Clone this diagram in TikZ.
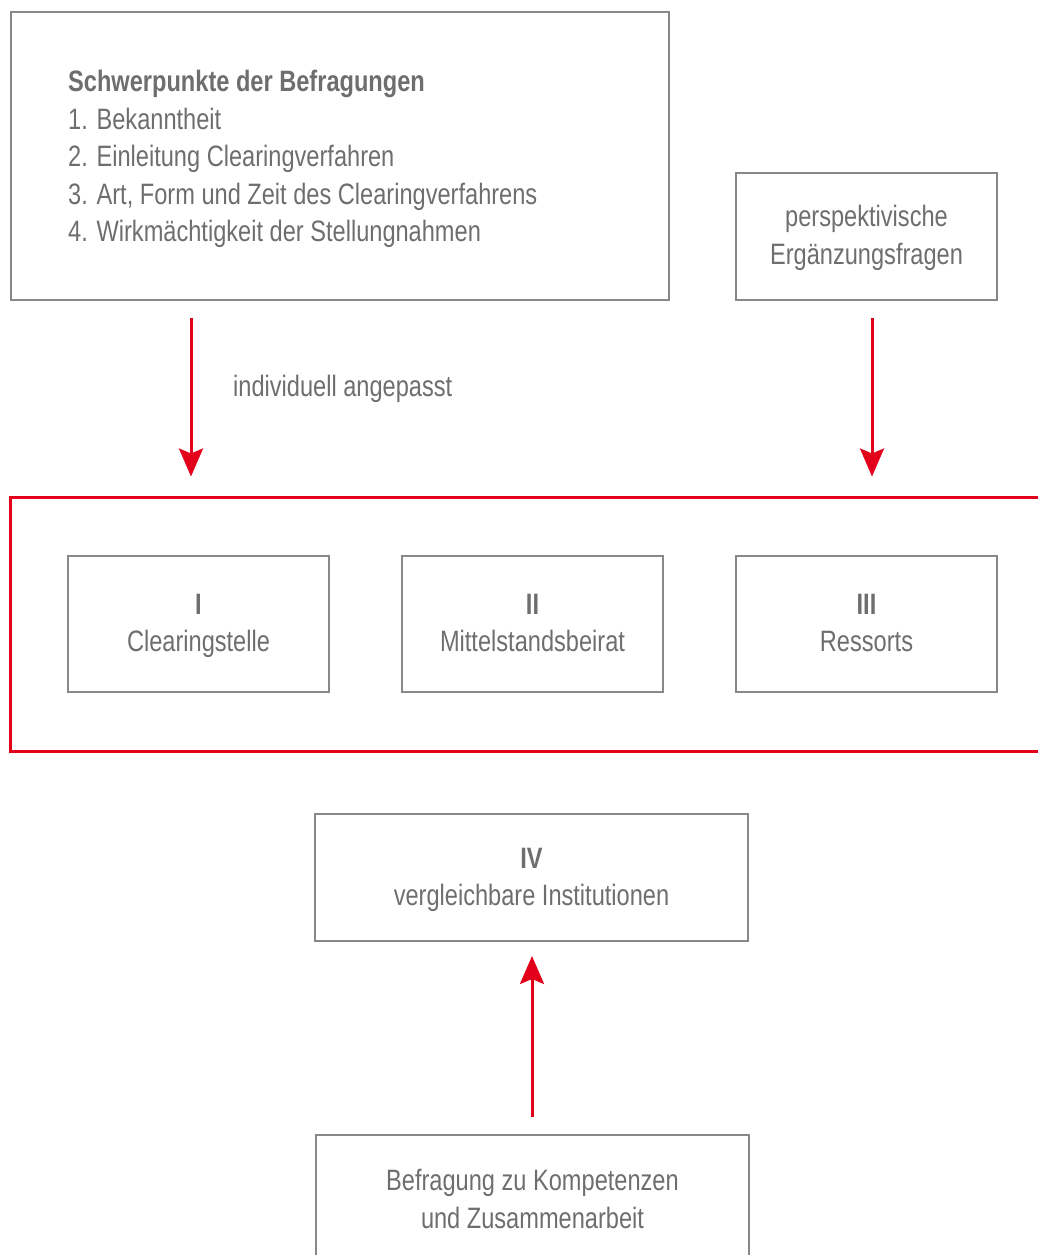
\documentclass[tikz,border=0pt]{standalone}
\usepackage{fontspec}
\setmainfont[FakeStretch=0.8]{Liberation Sans}
\usetikzlibrary{arrows.meta}
\definecolor{txtgray}{HTML}{6E6E6E}
\definecolor{boxgray}{HTML}{888888}
\definecolor{cred}{HTML}{E3001B}
\tikzset{
  graybox/.style={draw=boxgray, line width=2pt, minimum width=#1, inner sep=0pt, text=txtgray, align=center, font=\fontsize{29.5}{37.5}\selectfont},
  redbox/.style={draw=cred, line width=3pt, inner sep=0pt},
  redarrow/.style={draw=cred, line width=3pt, -{Stealth[length=28pt,width=24pt,inset=5pt]}},
  txt/.style={text=txtgray, inner sep=0pt, font=\fontsize{29.5}{37.5}\selectfont},
}
\begin{document}
\begin{tikzpicture}[x=1pt,y=-1pt]
\useasboundingbox (0,0) rectangle (1038,1255);
\clip (0,0) rectangle (1038,1255);
% top boxes
\node[graybox=658pt, minimum height=288pt] (tl) at (340,156) {};
\node[txt, anchor=west, align=left] (tltext) at (68,159) {\textbf{Schwerpunkte der Befragungen}\\1. Bekanntheit\\2. Einleitung Clearingverfahren\\3. Art, Form und Zeit des Clearingverfahrens\\4. Wirkmächtigkeit der Stellungnahmen};
\node[graybox=261pt, minimum height=127pt] (tr) at (866.5,236.5) {};
\node[txt, align=center] (trtext) at (866.5,238) {perspektivische\\Ergänzungsfragen};
% red group
\node[redbox, minimum width=1060pt, minimum height=254pt] (grp) at (540,624) {};
\node[graybox=261pt, minimum height=136pt] (b1) at (198.5,624) {};
\node[graybox=261pt, minimum height=136pt] (b2) at (532.5,624) {};
\node[graybox=261pt, minimum height=136pt] (b3) at (866.5,624) {};
\node[txt, align=center] (b1text) at (198.5,626) {\textbf{I}\\Clearingstelle};
\node[txt, align=center] (b2text) at (532.5,623) {\textbf{II}\\Mittelstandsbeirat};
\node[txt, align=center] (b3text) at (866.5,623) {\textbf{III}\\Ressorts};
% lower boxes
\node[graybox=433pt, minimum height=127pt] (b4) at (531.5,877.5) {};
\node[txt, align=center] (b4text) at (531.5,880) {\textbf{IV}\\vergleichbare Institutionen};
\node[graybox=433pt, minimum height=200pt] (b5) at (532.5,1235) {};
\node[txt, align=center] (b5text) at (532.5,1199) {Befragung zu Kompetenzen\\und Zusammenarbeit};
% arrows
\coordinate (a1s) at (191,318);
\coordinate (a2s) at (872,318);
\coordinate (a3s) at (532,1117);
\draw[redarrow, shorten >=19pt] (a1s) -- (a1s |- grp.north);
\draw[redarrow, shorten >=19pt] (a2s) -- (a2s |- grp.north);
\draw[redarrow, shorten >=14pt] (a3s) -- (a3s |- b4.south);
\node[txt, anchor=west] (lbl) at (233,389) {individuell angepasst};
\end{tikzpicture}
\end{document}
